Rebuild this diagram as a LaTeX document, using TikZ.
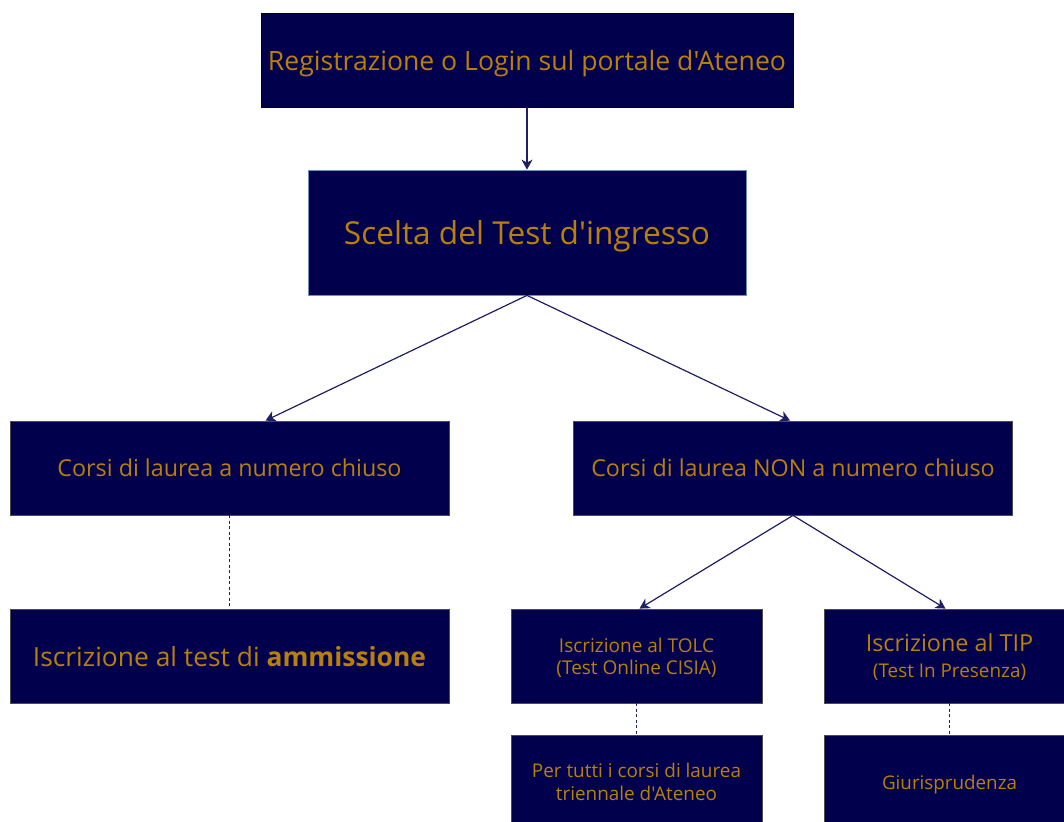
\documentclass[tikz,border=0pt]{standalone}
\usepackage{fontspec}
\setmainfont{Open Sans}[Ligatures=TeXOff]
\usetikzlibrary{arrows.meta,calc}
\definecolor{boxblu}{RGB}{0,0,77}
\definecolor{oro}{RGB}{184,128,8}
\definecolor{lineablu}{RGB}{30,30,100}
\definecolor{bordoazz}{RGB}{108,142,191}

\begin{document}
\begin{tikzpicture}[x=1pt,y=-1pt,
    blocco/.style={draw=black!70, fill=boxblu, text=oro, inner sep=0pt, text depth=0pt, align=center, line width=0.8pt},
    largo/.style={blocco, minimum width=439pt, minimum height=94pt},
    stretto/.style={blocco, minimum width=251pt, minimum height=94pt},
    freccia/.style={draw=lineablu, line width=1.2pt, -{Stealth[length=10pt,width=11pt,inset=3pt]}},
    tratteggio/.style={draw=lineablu, line width=1.2pt, dash pattern=on 3pt off 2.5pt}]
  \useasboundingbox (0,0) rectangle (1064,821);
  \clip (0,0) rectangle (1064,821);

  \node[blocco, draw=black, minimum width=532pt, minimum height=94pt,
        font=\fontsize{26.6}{30}\selectfont] (login) at (527,60)
        {Registrazione o Login sul portale d'Ateneo};
  \node[blocco, draw=bordoazz, minimum width=438pt, minimum height=125pt,
        font=\fontsize{31.6}{36}\selectfont] (scelta) at (527,232.5)
        {Scelta del Test d'ingresso};

  \node[largo, font=\fontsize{23.3}{27}\selectfont] (chiuso) at (229.5,468)
        {Corsi di laurea a numero chiuso};
  \node[largo, font=\fontsize{23.3}{27}\selectfont] (nonchiuso) at (793,468)
        {Corsi di laurea NON a numero chiuso};
  \node[largo, font=\fontsize{26.4}{30}\selectfont] (ammissione) at (229.5,656)
        {Iscrizione al test di \textbf{ammissione}};

  \node[stretto, font=\fontsize{19}{22}\selectfont] (tolc) at (636.5,656)
        {Iscrizione al TOLC\\(Test Online CISIA)};
  \node[stretto, font=\fontsize{18.9}{26}\selectfont] (tip) at (949.5,656)
        {{\fontsize{23.4}{26}\selectfont Iscrizione al TIP}\\(Test In Presenza)};
  \node[stretto, font=\fontsize{18.9}{23}\selectfont] (tutti) at (636.5,782)
        {Per tutti i corsi di laurea\\triennale d'Ateneo};
  \node[stretto, font=\fontsize{18.8}{23}\selectfont] (giuri) at (949.5,782)
        {Giurisprudenza};

  \path (login) edge[freccia] (scelta)
        (scelta.south) edge[freccia] ($(chiuso.north)+(36,0)$)
        (scelta.south) edge[freccia] ($(nonchiuso.north)+(-3,0)$)
        (nonchiuso.south) edge[freccia] ($(tolc.north)+(3,0)$)
        (nonchiuso.south) edge[freccia] ($(tip.north)+(-4,0)$);
  \path (chiuso) edge[tratteggio] (ammissione)
        (tolc) edge[tratteggio] (tutti)
        (tip) edge[tratteggio] (giuri);
\end{tikzpicture}
\end{document}
